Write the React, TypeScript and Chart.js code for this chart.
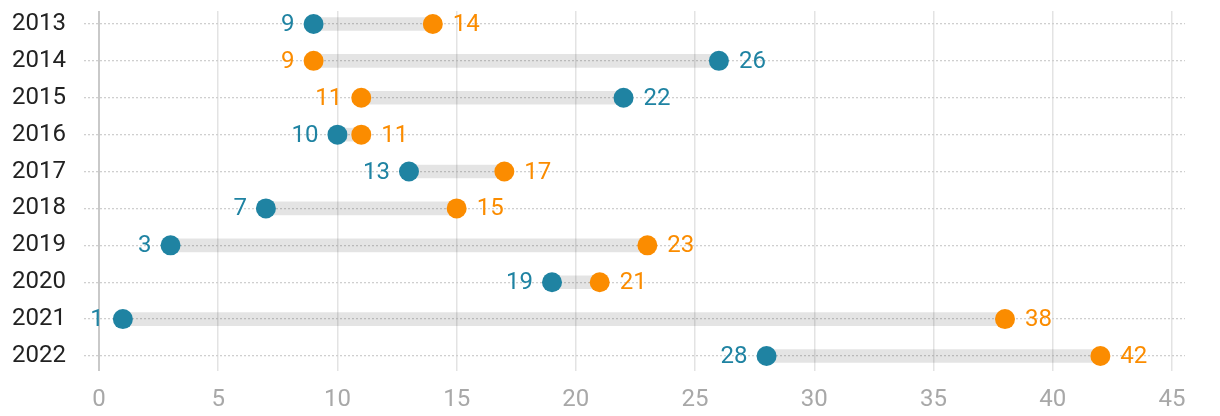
import React, { useEffect, useRef } from 'react';
import { Chart, registerables } from 'chart.js';

Chart.register(...registerables);

const years = ['2013', '2014', '2015', '2016', '2017', '2018', '2019', '2020', '2021', '2022'];
const seriesA = [9, 26, 22, 10, 13, 7, 3, 19, 1, 28]; // blue
const seriesB = [14, 9, 11, 11, 17, 15, 23, 21, 38, 42]; // orange
const xTickValues = [0, 5, 10, 15, 20, 25, 30, 35, 40, 45];

const BLUE = '#1f83a2';
const ORANGE = '#fb8c00';
const FONT = 'Roboto';
const FONT_SIZE = 24;

const valueLabels = {
  id: 'valueLabels',
  afterDatasetsDraw(chart: any) {
    const ctx = chart.ctx;
    const a = chart.getDatasetMeta(1).data;
    const b = chart.getDatasetMeta(2).data;
    ctx.save();
    ctx.font = `${FONT_SIZE}px ${FONT}`;
    ctx.textBaseline = 'middle';
    years.forEach((_, i) => {
      const pa = a[i];
      const pb = b[i];
      if (!pa || !pb) return;
      const aLow = seriesA[i] <= seriesB[i];
      const low = aLow ? { p: pa, v: seriesA[i], c: BLUE } : { p: pb, v: seriesB[i], c: ORANGE };
      const high = aLow ? { p: pb, v: seriesB[i], c: ORANGE } : { p: pa, v: seriesA[i], c: BLUE };
      ctx.fillStyle = low.c;
      ctx.textAlign = 'right';
      ctx.fillText(String(low.v), low.p.x - 19, low.p.y + 1);
      ctx.fillStyle = high.c;
      ctx.textAlign = 'left';
      ctx.fillText(String(high.v), high.p.x + 20, high.p.y + 1);
    });
    ctx.restore();
  },
};

export default function App() {
  const ref = useRef<HTMLCanvasElement | null>(null);
  useEffect(() => {
    if (!ref.current) return;
    const chart = new Chart(ref.current, {
      data: {
        datasets: [
          {
            type: 'bar',
            label: 'Range',
            indexAxis: 'y',
            order: 3,
            data: years.map((_, i) => ({
              y: i,
              x: [Math.min(seriesA[i], seriesB[i]), Math.max(seriesA[i], seriesB[i])],
            })),
            backgroundColor: 'rgba(0,0,0,0.105)',
            borderWidth: 0,
            barThickness: 13,
            xAxisID: 'x',
            yAxisID: 'y',
          } as any,
          {
            type: 'scatter',
            label: 'Series A',
            order: 1,
            data: years.map((_, i) => ({ x: seriesA[i], y: i })),
            backgroundColor: BLUE,
            pointRadius: 10,
            pointBorderWidth: 0,
            pointHoverRadius: 10,
          },
          {
            type: 'scatter',
            label: 'Series B',
            order: 2,
            data: years.map((_, i) => ({ x: seriesB[i], y: i })),
            backgroundColor: ORANGE,
            pointRadius: 10,
            pointBorderWidth: 0,
            pointHoverRadius: 10,
          },
        ],
      },
      options: {
        animation: false,
        responsive: true,
        maintainAspectRatio: false,
        layout: { autoPadding: false, padding: { left: 4, right: 27, top: 3, bottom: 0 } },
        plugins: {
          legend: { display: false },
          tooltip: { enabled: false },
        },
        scales: {
          x: {
            type: 'linear',
            min: -0.63,
            max: 45.55,
            offset: false,
            afterBuildTicks: (scale: any) => {
              scale.ticks = xTickValues.map((v) => ({ value: v }));
            },
            afterFit: (scale: any) => {
              scale.height = 44;
              scale.paddingLeft = 0;
              scale.paddingRight = 0;
            },
            border: { display: false },
            grid: {
              offset: false,
              drawTicks: false,
              color: (c: any) => (c.tick && c.tick.value === 0 ? '#c9c9c9' : '#e3e3e3'),
              lineWidth: (c: any) => (c.tick && c.tick.value === 0 ? 2 : 1.5),
            },
            ticks: {
              padding: 15,
              color: '#a8a8a8',
              font: { family: FONT, size: FONT_SIZE },
              callback: (v: any) => String(v),
            },
          },
          y: {
            type: 'linear',
            reverse: true,
            min: -0.352,
            max: 9.407,
            offset: false,
            afterBuildTicks: (scale: any) => {
              scale.ticks = years.map((_, i) => ({ value: i }));
            },
            afterFit: (scale: any) => {
              scale.width = 72;
              scale.paddingTop = 0;
              scale.paddingBottom = 0;
            },
            border: { display: false, dash: [2, 2] },
            grid: {
              offset: false,
              drawTicks: false,
              color: '#cfcfcf',
              lineWidth: 1.3,
            },
            ticks: {
              padding: 18,
              color: '#222',
              font: { family: FONT, size: FONT_SIZE },
              callback: (v: any) => years[v] ?? '',
            },
          },
        },
      },
      plugins: [valueLabels],
    } as any);
    return () => chart.destroy();
  }, []);
  return (
    <div style={{ width: '100%', height: '407px' }}>
      <canvas ref={ref} />
    </div>
  );
}
